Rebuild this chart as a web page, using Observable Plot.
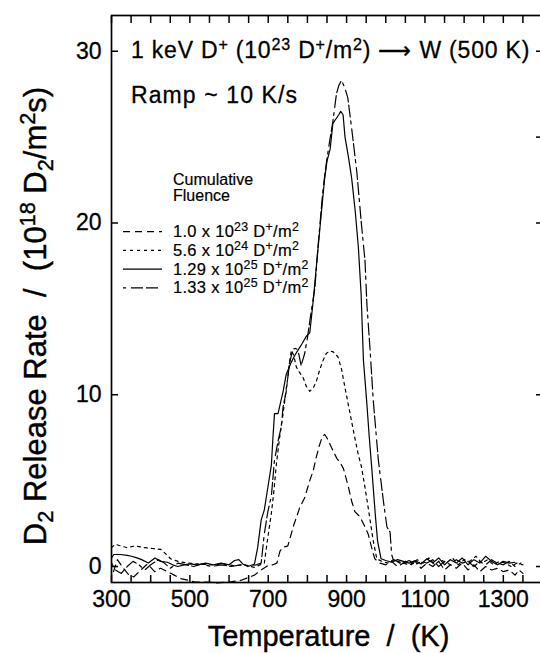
<!DOCTYPE html>
<html><head><meta charset="utf-8">
<script src="https://cdn.jsdelivr.net/npm/d3@7"></script>
<script src="https://cdn.jsdelivr.net/npm/@observablehq/plot@0.6"></script>
<style>
html,body{margin:0;padding:0;background:#fff;}
#chart{width:540px;height:653px;}
svg text{font-family:"Liberation Sans",Arial,Helvetica,sans-serif;}
</style></head><body><div id="chart"></div>
<script>
// ---------- data (temperature K, release rate 1e18 D2/m2s) ----------
const tempA = [305,315,330,345,357,375,392,410,425,443,460,477,495,513,540,570,600,631,648,665,682,699,712,722,730,736,750,765,780,793,806,815,823,830,837,844,852,862,875,885,892,905,913,921,934,945,955,965,972,985,1000,1015,1030,1045,1060,1075,1090,1105,1120,1135,1150,1165,1180,1195,1210,1225,1240,1255,1270,1285,1300,1315,1330,1340,1350];
const rateA = [-0.3,0.4,-0.1,-0.5,-0.6,-0.2,0.15,-0.3,-0.1,-0.3,-0.5,-0.7,-0.8,-0.9,-0.9,-0.95,-0.9,-0.8,-0.65,-0.5,-0.2,0.05,0.1,0.2,0.9,1.1,1.2,2.4,3.4,4.0,5.0,5.6,6.4,7.0,7.5,7.7,7.4,6.9,6.3,6.0,5.7,4.6,3.8,3.2,2.9,2.4,1.9,1.0,0.45,0.2,0.1,0.3,0.0,0.2,0.1,0.3,-0.1,0.2,0.0,0.3,-0.2,0.1,-0.1,0.2,-0.2,0.1,-0.3,0.0,-0.2,-0.1,-0.3,-0.2,-0.5,-0.2,-0.4];

const tempB = [300,310,323,340,360,383,405,426,440,451,470,494,520,554,585,614,640,665,680,690,699,708,715,720,729,738,745,750,755,759,765,772,780,789,797,806,815,823,832,840,848,857,866,878,887,896,908,921,930,938,947,955,962,968,977,990,1005,1020,1035,1050,1065,1080,1095,1110,1125,1140,1155,1170,1185,1200,1215,1230,1245,1260,1275,1290,1305,1320,1335,1350];
const rateB = [1.1,1.3,1.2,1.1,1.2,1.1,1.05,1.0,0.7,0.45,0.3,0.2,0.15,0.1,0.15,0.05,0.1,-0.05,0.1,0.2,1.7,3.1,4.5,5.8,7.5,8.9,10.2,11.0,12.0,12.6,12.3,11.6,11.3,11.0,10.5,10.2,10.4,10.8,11.5,12.0,12.4,12.55,12.5,12.2,11.5,10.4,9.0,7.5,6.5,5.8,4.6,3.45,2.4,1.5,0.45,0.3,0.2,0.4,0.2,0.3,0.1,0.4,0.2,0.5,0.1,0.4,0.2,0.5,0.1,0.4,0.3,0.6,0.2,0.4,0.1,0.3,0.2,0.0,0.2,0.1];

const tempC = [300,306,323,340,351,365,377,394,411,425,443,456,469,485,500,520,540,560,580,600,614,625,635,648,660,665,673,682,690,699,708,712,716,725,732,738,746,759,768,776,787,797,806,815,825,836,844,850,858,865,874,880,885,891,896,905,913,922,930,937,943,951,958,964,973,979,988,1000,1015,1030,1045,1060,1075,1090,1105,1120,1135,1150,1165,1180,1195,1210,1225,1240,1255,1270,1285,1300,1315,1330];
const rateC = [0.5,0.7,0.7,0.65,0.6,0.5,0.4,0.2,0.5,0.3,0.25,0.1,0.0,0.1,0.15,0.1,0.2,0.1,0.2,0.1,0.35,0.4,0.15,0.0,0.1,0.15,1.1,2.7,3.3,4.6,5.9,7.5,8.9,8.9,9.6,10.2,11.2,11.9,12.3,12.6,13.0,13.4,13.6,15.5,18.0,20.7,22.6,23.6,24.3,25.8,26.1,26.3,26.5,26.3,25.0,23.8,22.6,20.7,18.6,15.9,12.0,9.7,7.5,5.8,3.1,1.5,0.45,0.35,0.25,0.4,0.3,0.2,0.35,0.15,0.45,0.2,0.5,0.1,0.4,0.2,0.5,0.1,0.4,0.2,0.6,0.3,0.1,0.3,0.2,0.25];

const tempD = [300,310,325,340,355,370,385,400,420,435,450,470,490,510,530,555,580,605,630,650,670,682,690,699,708,716,725,733,738,746,754,763,770,776,784,793,800,810,819,827,840,849,857,865,874,880,887,895,903,913,926,938,947,952,960,968,981,994,1003,1011,1015,1019,1030,1045,1060,1075,1090,1105,1120,1135,1150,1165,1180,1195,1210,1225,1240,1255,1270,1285,1300,1315,1330,1345];
const rateD = [0.2,-0.2,-0.4,0.0,0.3,0.1,-0.2,0.1,0.4,0.2,-0.1,0.2,0.1,0.0,0.15,0.0,0.1,0.0,0.1,0.05,0.1,0.2,1.9,3.2,4.1,6.2,7.3,8.1,9.3,10.2,11.8,12.65,12.7,12.6,11.7,12.4,13.3,14.9,16.2,18.6,22.0,23.6,24.8,25.9,27.5,28.0,28.3,27.9,27.3,25.5,23.0,19.9,17.8,15.2,12.6,9.7,6.2,3.8,2.3,2.0,0.7,0.4,0.3,0.2,0.35,0.1,0.3,0.2,0.4,0.0,0.3,0.1,0.4,0.2,0.3,0.0,0.3,0.1,0.4,0.2,0.1,0.3,0.0,0.2];

const fluenceMantissa = ["1.0","5.6","1.29","1.33"];
const fluenceExponent = ["23","24","25","25"];
const xTickLabels = [300,500,700,900,1100,1300];
const xTickMarks = [300,350,400,450,500,550,600,650,700,750,800,850,900,950,1000,1050,1100,1150,1200,1250,1300,1350,1400];
const yTickLabels = [0,10,20,30];
const yRightTicks = [0,10,20,25,30];

// ---------- build ----------
const dashes = ["7,5","3,4",null,"3,5,12,3,12,4"];
const seriesT = [tempA,tempB,tempC,tempD];
const seriesR = [rateA,rateB,rateC,rateD];
const curves = seriesT.map((T,i)=>T.map((t,j)=>({T:t,R:seriesR[i][j]})));

const FONT = '"Liberation Sans",Arial,Helvetica,sans-serif';
const TK = 7;
const plot = Plot.plot({
  width: 540, height: 653,
  marginLeft: 111, marginRight: -2, marginTop: 15, marginBottom: 71,
  style: {fontFamily: FONT, background: "white", color: "black"},
  x: {domain: [300,1400], label: null},
  y: {domain: [-0.93, 32.08], label: null},
  marks: [
    Plot.frame({stroke:"black", strokeWidth:1.7}),
    Plot.axisX({anchor:"bottom", ticks:xTickMarks, tickSize:TK, dy:-TK, tickFormat:()=>"", label:null, strokeWidth:1.5}),
    Plot.axisX({anchor:"top", ticks:xTickMarks, tickSize:TK, dy:TK, tickFormat:()=>"", label:null, strokeWidth:1.5}),
    Plot.axisY({anchor:"left", ticks:yTickLabels, tickSize:TK, dx:TK, tickFormat:()=>"", label:null, strokeWidth:1.5}),
    Plot.axisY({anchor:"right", ticks:yRightTicks, tickSize:TK, dx:-TK, tickFormat:()=>"", label:null, strokeWidth:1.5}),
    Plot.axisX({anchor:"bottom", ticks:xTickLabels, tickSize:0, tickPadding:8, fontSize:23, tickFormat:d=>String(d), label:null}),
    Plot.axisY({anchor:"left", ticks:yTickLabels, tickSize:0, tickPadding:10, fontSize:23, tickFormat:d=>String(d), label:null}),
    ...curves.map((c,i)=>Plot.line(c, {x:"T", y:"R", stroke:"black", strokeWidth:1.2, strokeDasharray: dashes[i] ?? undefined}))
  ]
});
document.getElementById("chart").appendChild(plot);

const svg = d3.select(plot);
svg.selectAll("text").attr("stroke","black").attr("stroke-width",0.3);
const xs = plot.scale("x"), ys = plot.scale("y");
const fLeft = xs.apply(300);
const fTop = ys.apply(32.08), fRight = 540;

// ---------- rich text annotations (super/subscripts) ----------
function rich(x, y, parts, fs, opts={}) {
  const t = svg.append("text").attr("x", x).attr("y", y)
    .attr("font-size", fs).attr("fill","black")
    .attr("stroke","black").attr("stroke-width", opts.sw ?? 0.3)
    .attr("text-anchor", opts.anchor || "start")
    .style("white-space","pre").style("font-family", FONT);
  if (opts.transform) t.attr("transform", opts.transform);
  if (opts.ls) t.attr("letter-spacing", opts.ls);
  let shift = 0;
  const sc = opts.sc || 0.7;
  for (const [s,k] of parts) {
    const ts = t.append("tspan").text(s);
    const target = k==="sup" ? -0.36*fs : k==="sub" ? 0.22*fs : 0;
    if (target !== shift) ts.attr("dy", target - shift);
    shift = target;
    if (k) ts.attr("font-size", fs*sc);
  }
  return t;
}

// title lines
rich(fLeft+20, fTop+43, [["1 keV D"],["+","sup"],[" (10"],["23","sup"],[" D"],["+","sup"],["/m"],["2","sup"],[") "],["⟶"],[" W (500 K)"]], 23, {ls:0.8});
rich(fLeft+20, fTop+88, [["Ramp ~ 10 K/s"]], 23, {ls:1.1});

// legend
rich(fLeft+62, fTop+170, [["Cumulative"]], 16, {sw:0.2});
rich(fLeft+62, fTop+186, [["Fluence"]], 16, {sw:0.2});
fluenceMantissa.forEach((m,i)=>{
  const yy = fTop + 216.7 + i*18.7;
  svg.append("line").attr("x1", fLeft+12).attr("x2", fLeft+51).attr("y1", yy).attr("y2", yy)
    .attr("stroke","black").attr("stroke-width",1.2)
    .attr("stroke-dasharray", dashes[i] || null);
  rich(fLeft+62, yy+5.5, [[m+" x 10"],[fluenceExponent[i],"sup"],[" D"],["+","sup"],["/m"],["2","sup"]], 16.5, {sc:0.75, ls:0.3, sw:0.2});
});

// axis titles
rich((fLeft+fRight)/2+3, 646, [["Temperature  /  (K)"]], 29, {anchor:"middle", sw:0.4});
rich(0, 0, [["D"],["2","sub"],[" Release Rate  /  (10"],["18","sup"],[" D"],["2","sub"],["/m"],["2","sup"],["s)"]], 31, {anchor:"middle", sw:0.4, transform:`translate(46,316) rotate(-90)`});
</script></body></html>
